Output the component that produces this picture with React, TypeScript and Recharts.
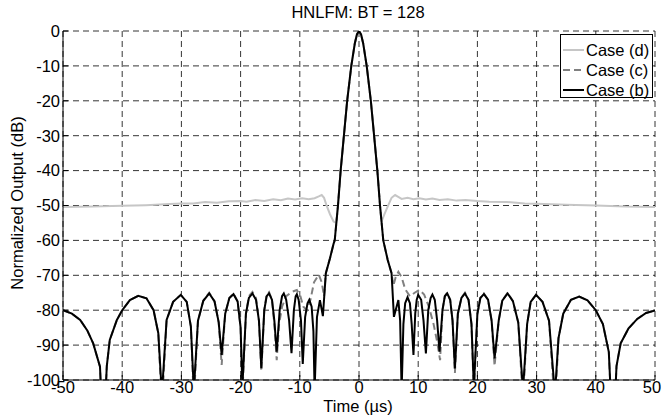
import { LineChart, Line, XAxis, YAxis, CartesianGrid } from 'recharts';

const FONT = '"Liberation Sans", Arial, Helvetica, sans-serif';

const timeTicks = [-50, -40, -30, -20, -10, 0, 10, 20, 30, 40, 50];
const levelTicks = [-100, -90, -80, -70, -60, -50, -40, -30, -20, -10, 0];

// [time in µs, normalized output in dB]; values under -100 run off the axis
const mainLobe: [number, number][] = [
  [-4.1, -60], [-3.55, -50], [-3.1, -40], [-2.55, -30], [-2.0, -20], [-1.3, -10],
  [-0.7, -3.5], [-0.35, -1], [0, 0], [0.35, -1], [0.7, -3.5], [1.3, -10],
  [2.0, -20], [2.55, -30], [3.1, -40], [3.55, -50], [4.1, -60],
];

const farLeft: [number, number][] = [
  [-50, -80.0], [-48.5, -81.0], [-47.1, -82.8], [-45.9, -85.8], [-44.9, -89.5],
  [-43.75, -96.2], [-43.2, -118], [-42.6, -96], [-42.1, -88.5], [-40.9, -82.8],
  [-40, -80], [-38.7, -77.1], [-37.3, -75.9], [-35.9, -76.6], [-34.7, -80],
  [-33.9, -86.6],
];

const farRight: [number, number][] = [
  [33.7, -88], [34.5, -81], [35.8, -77], [37.2, -76.1], [38.6, -77.2], [40.0, -80],
  [41.2, -84], [42.2, -92], [42.9, -118], [43.5, -96], [44.2, -89.5], [45.5, -85.3],
  [47.0, -82.5], [48.5, -80.8], [50, -80.1],
];

const caseB: [number, number][] = [
  ...farLeft,
  [-33.3, -104], [-32.5, -82.8], [-31.4, -77.6], [-30.1, -75.6], [-29.1, -77.6], [-28.4, -84.7],
  [-27.9, -103], [-27.2, -83], [-26.3, -77.3], [-25.3, -75.2], [-24.4, -77.5], [-23.7, -83.5],
  [-23.2, -92.8], [-22.6, -81], [-21.9, -76.5], [-21.2, -75.4], [-20.5, -77.5], [-20.0, -85],
  [-19.7, -102], [-19.1, -81], [-18.6, -76.5], [-18.0, -75.2], [-17.4, -77], [-16.9, -83],
  [-16.5, -96.6], [-16.0, -80], [-15.6, -76], [-15.2, -75.2], [-14.7, -77], [-14.3, -83],
  [-13.9, -91.9], [-13.4, -80], [-13.0, -76], [-12.7, -75.2], [-12.3, -77], [-11.8, -83],
  [-11.4, -92.3], [-11.0, -80], [-10.7, -76], [-10.5, -75.4], [-10.2, -77], [-9.8, -83],
  [-9.5, -95.4], [-9.1, -82], [-8.7, -78], [-8.4, -77], [-8.0, -79], [-7.7, -86],
  [-7.5, -103], [-7.1, -82], [-6.6, -77.1], [-6.1, -81.7], [-5.6, -69.4], [-4.9, -65.1], [-4.3, -61],
  ...mainLobe,
  [4.85, -65.6], [5.5, -69.4], [5.9, -81.9], [6.65, -77.1], [6.95, -83], [7.2, -103],
  [7.5, -84], [7.8, -78], [8.2, -76.3], [8.6, -78], [8.9, -84], [9.2, -92.8],
  [9.5, -81], [9.75, -77], [10.0, -75.6], [10.5, -77], [10.9, -83], [11.3, -92.4],
  [11.7, -80], [12.1, -76.5], [12.4, -75.5], [12.8, -77], [13.2, -83], [13.6, -91.9],
  [14.1, -80], [14.5, -76], [14.9, -75.2], [15.4, -77], [15.8, -83], [16.2, -96.7],
  [16.7, -81], [17.3, -76.5], [17.9, -75.2], [18.5, -77], [19.0, -84], [19.4, -102],
  [20.0, -81], [20.5, -76.5], [21.1, -75.4], [21.8, -77], [22.4, -83], [22.9, -93.8],
  [23.6, -83], [24.2, -77.3], [25.1, -75.2], [26.0, -77.4], [26.9, -83.5], [27.7, -103],
  [28.4, -84], [29.0, -77.6], [29.9, -75.6], [31.0, -77.6], [32.1, -83], [33.1, -104],
  ...farRight,
];

const caseC: [number, number][] = [
  ...farLeft,
  [-33.3, -108], [-32.5, -82.8], [-31.4, -77.6], [-30.1, -75.6], [-29.1, -77.6], [-28.4, -84.7],
  [-27.9, -106], [-27.2, -83], [-26.3, -77.3], [-25.3, -75.0], [-24.4, -77.5], [-23.7, -83.5],
  [-23.2, -95.7], [-22.6, -81], [-21.9, -76.5], [-21.2, -75.2], [-20.5, -77.5], [-20.0, -85],
  [-19.7, -104], [-19.1, -81], [-18.6, -76], [-18.0, -74.8], [-17.4, -76.5], [-16.9, -83],
  [-16.5, -97.5], [-16.0, -80], [-15.6, -75.5], [-15.2, -74.8], [-14.7, -77], [-14.3, -84],
  [-13.9, -94.3], [-13.5, -84], [-13.0, -79], [-12.3, -76], [-11.4, -74.8], [-10.5, -74.2],
  [-9.9, -76], [-9.4, -79], [-8.8, -80], [-8.2, -77], [-7.6, -72], [-6.8, -69.8],
  [-6.3, -72], [-5.9, -76], [-5.6, -69.4], [-4.9, -65.1], [-4.3, -61],
  ...mainLobe,
  [4.85, -65.6], [5.5, -69.4], [5.8, -73], [6.2, -70.5], [6.65, -69], [7.2, -70.5],
  [7.8, -74], [8.6, -76], [9.4, -75], [10.2, -74.2], [11.0, -75.5], [11.8, -79],
  [12.6, -84], [13.2, -89], [13.7, -94.3],
  [14.1, -80], [14.5, -76], [14.9, -75], [15.4, -77], [15.8, -83], [16.2, -98],
  [16.7, -81], [17.3, -76.5], [17.9, -75.0], [18.5, -77], [19.0, -84], [19.4, -104],
  [20.0, -81], [20.5, -76.5], [21.1, -75.2], [21.8, -77], [22.4, -83], [22.9, -96],
  [23.6, -83], [24.2, -77.3], [25.1, -75.0], [26.0, -77.4], [26.9, -83.5], [27.7, -106],
  [28.4, -84], [29.0, -77.6], [29.9, -75.6], [31.0, -77.6], [32.1, -83], [33.1, -108],
  ...farRight,
];

const caseD: [number, number][] = [
  [-50, -50.4], [-45, -50.3], [-40, -50.1], [-36, -49.9], [-32, -49.6], [-30, -49.4],
  [-28, -49.4], [-26, -49.0], [-24, -49.2], [-22, -48.8], [-20, -48.7], [-19, -48.9],
  [-17.5, -48.4], [-16, -48.7], [-14.5, -48.2], [-13.2, -48.5], [-12, -48.0], [-10.8, -48.3],
  [-9.6, -47.9], [-8.5, -48.2], [-7.5, -47.9], [-6.8, -47.4], [-6.3, -47.0], [-5.9, -47.8],
  [-5.5, -49.9], [-4.9, -52.5], [-4.3, -54.6], [-3.85, -55],
  ...mainLobe.slice(1, -1),
  [3.8, -54.6], [4.3, -52.5], [4.95, -49.9], [5.5, -47.8], [6.1, -47.0], [6.7, -47.6],
  [7.2, -48.1], [8.2, -47.8], [9.2, -48.2], [10.2, -47.9], [11.3, -48.3], [12.4, -48.0],
  [13.6, -48.4], [15, -48.2], [16.5, -48.6], [18, -48.4], [20, -48.7], [22, -48.9],
  [25, -49.0], [28, -49.4], [30, -49.5], [35, -49.8], [40, -50.0], [45, -50.3], [50, -50.4],
];

const series = [
  { name: 'Case (d)', points: caseD, color: '#c6c6c6', dash: undefined },
  { name: 'Case (c)', points: caseC, color: '#808080', dash: '7 4' },
  { name: 'Case (b)', points: caseB, color: '#000000', dash: undefined },
];

const toRows = (pts: [number, number][]) => pts.map(([t, db]) => ({ t, db }));

const FS = 16.5;

// MATLAB squeezes the last x label against the right edge
const TimeTick = (props: any) => {
  const { x, y, payload } = props;
  const shift = payload.value === 50 ? -3 : 0;
  return (
    <text x={x + shift} y={y} dy="0.71em" textAnchor="middle" fill="#000" fontSize={FS} fontFamily={FONT}>
      {payload.value}
    </text>
  );
};

export default function App() {
  return (
    <div style={{ position: 'absolute', left: 0, top: 0, width: 662, height: 419, background: '#fff', fontFamily: FONT, color: '#000' }}>
      <LineChart width={662} height={419} margin={{ top: 31, right: 7, bottom: 9, left: 0 }}>
        <CartesianGrid stroke="#000" strokeWidth={0.8} strokeDasharray="6 4" />
        <XAxis
          dataKey="t"
          type="number"
          domain={[-50, 50]}
          ticks={timeTicks}
          interval={0}
          allowDataOverflow
          height={30}
          tickSize={-5}
          tickMargin={6}
          stroke="#000"
          tick={<TimeTick />}
        />
        <XAxis
          xAxisId="top"
          orientation="top"
          type="number"
          domain={[-50, 50]}
          ticks={timeTicks}
          interval={0}
          height={0}
          tickSize={-5}
          tick={false}
          stroke="#000"
        />
        <YAxis
          type="number"
          domain={[-100, 0]}
          ticks={levelTicks}
          interval={0}
          allowDataOverflow
          width={63}
          tickSize={-5}
          tickMargin={8}
          stroke="#000"
          tick={{ fill: '#000', fontSize: FS, fontFamily: FONT }}
        />
        <YAxis
          yAxisId="right"
          orientation="right"
          type="number"
          domain={[-100, 0]}
          ticks={levelTicks}
          interval={0}
          width={0}
          tickSize={-5}
          tick={false}
          stroke="#000"
        />
        {series.map((s) => (
          <Line
            key={s.name}
            name={s.name}
            data={toRows(s.points)}
            dataKey="db"
            type="linear"
            stroke={s.color}
            strokeWidth={2}
            strokeDasharray={s.dash}
            dot={false}
            activeDot={false}
            isAnimationActive={false}
          />
        ))}
      </LineChart>

      <div style={{ position: 'absolute', left: 0, width: 716, top: 3, textAlign: 'center', fontSize: FS, lineHeight: '18px' }}>
        HNLFM: BT = 128
      </div>
      <div style={{ position: 'absolute', left: 0, width: 716, top: 397, textAlign: 'center', fontSize: FS, lineHeight: '18px' }}>
        Time (µs)
      </div>
      <div
        style={{
          position: 'absolute', left: 17, top: 203, fontSize: FS, lineHeight: '18px', whiteSpace: 'nowrap',
          transform: 'translate(-50%, -50%) rotate(-90deg)',
        }}
      >
        Normalized Output (dB)
      </div>

      <div style={{ position: 'absolute', left: 560, top: 34, width: 91, height: 62, border: '1px solid #000', background: '#fff' }}>
        {series.map((s, i) => (
          <div key={s.name} style={{ position: 'absolute', left: 2, top: 5 + i * 20, height: 20, display: 'flex', alignItems: 'center', fontSize: FS, whiteSpace: 'nowrap' }}>
            <svg width={21} height={4} style={{ marginRight: 2 }}>
              <line x1={0} y1={2} x2={21} y2={2} stroke={s.color} strokeWidth={2} strokeDasharray={s.dash} />
            </svg>
            {s.name}
          </div>
        ))}
      </div>
    </div>
  );
}
